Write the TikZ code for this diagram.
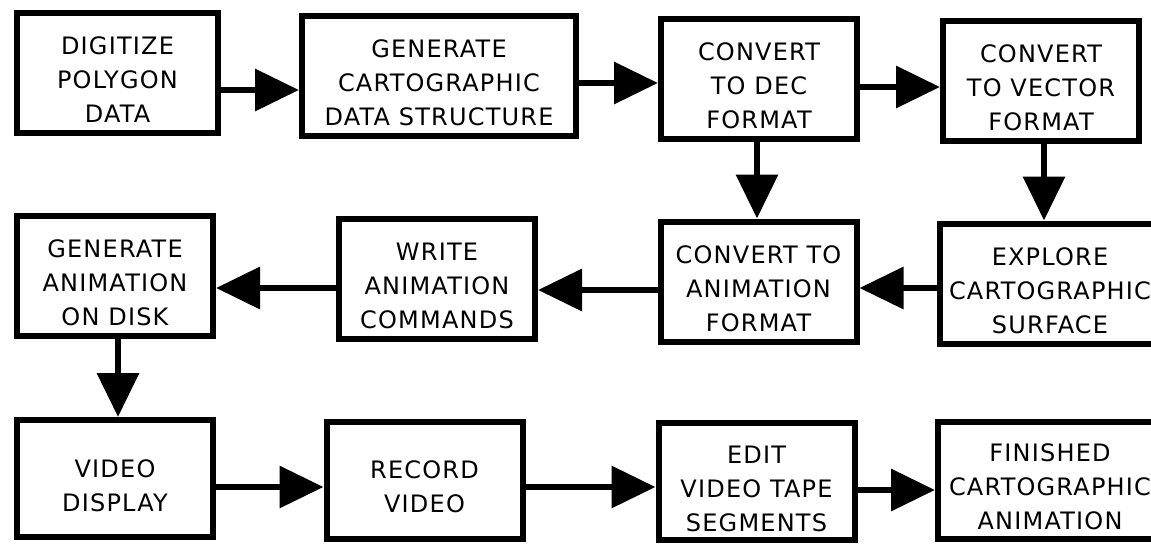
\documentclass[tikz,border=0pt]{standalone}
\usepackage{fontspec}
\setmainfont{DejaVu Sans}[LetterSpace=5]
\usetikzlibrary{arrows.meta}

\tikzset{
  caption/.style={yshift=-7pt, align=center, inner sep=0pt,
    font=\fontsize{24}{34}\selectfont},
  stage/.style={draw, rectangle, line width=6pt,
    minimum width=196pt, minimum height=120pt,
    label={[caption]center:#1}},
  flow/.style={line width=6.5pt, -{Triangle[length=44pt,width=41pt]}}
}

\begin{document}
\begin{tikzpicture}[x=1pt,y=-1pt]
  \clip (0,0) rectangle (1151,544);
  \fill [white] (0,0) rectangle (1151,544);

  % top row
  \node [stage={DIGITIZE\\POLYGON\\DATA}, minimum width=201pt] (digitize) at (117.5,73) {};
  \node [stage={GENERATE\\CARTOGRAPHIC\\DATA STRUCTURE}, minimum width=274pt] (cartodata) at (439,76) {};
  \node [stage={CONVERT\\TO DEC\\FORMAT}] (decfmt) at (759,78.5) {};
  \node [stage={CONVERT\\TO VECTOR\\FORMAT}] (vecfmt) at (1041,80.5) {};

  % middle row, runs right to left
  \node [stage={GENERATE\\ANIMATION\\ON DISK}] (gendisk) at (115,275.5) {};
  \node [stage={WRITE\\ANIMATION\\COMMANDS}] (writecmd) at (437,279) {};
  \node [stage={CONVERT TO\\ANIMATION\\FORMAT}] (animfmt) at (758.5,281.5) {};
  \node [stage={EXPLORE\\CARTOGRAPHIC\\SURFACE}, minimum width=220pt] (explore) at (1050,283.5) {};

  % bottom row
  \node [stage={VIDEO\\DISPLAY}, minimum height=117pt] (display) at (115,478.5) {};
  \node [stage={RECORD\\VIDEO}, minimum height=117pt] (record) at (424.5,480) {};
  \node [stage={EDIT\\VIDEO TAPE\\SEGMENTS}, minimum height=117pt] (edit) at (756.5,481.5) {};
  \node [stage={FINISHED\\CARTOGRAPHIC\\ANIMATION}, minimum height=117pt, minimum width=224pt] (finished) at (1050,480) {};

  % arrows along the rows
  \draw [flow] ([yshift=-17pt]digitize.east) -- ([yshift=-17pt]digitize.east -| cartodata.west);
  \draw [flow] ([yshift=-7pt]cartodata.east) -- ([yshift=-7pt]cartodata.east -| decfmt.west);
  \draw [flow] ([yshift=-8.5pt]decfmt.east) -- ([yshift=-8.5pt]decfmt.east -| vecfmt.west);
  \draw [flow] ([yshift=-4.5pt]explore.west) -- ([yshift=-4.5pt]explore.west -| animfmt.east);
  \draw [flow] ([yshift=-8.5pt]animfmt.west) -- ([yshift=-8.5pt]animfmt.west -| writecmd.east);
  \draw [flow] ([yshift=-9pt]writecmd.west) -- ([yshift=-9pt]writecmd.west -| gendisk.east);
  \draw [flow] ([yshift=-8.5pt]display.east) -- ([yshift=-8.5pt]display.east -| record.west);
  \draw [flow] ([yshift=-7pt]record.east) -- ([yshift=-7pt]record.east -| edit.west);
  \draw [flow] ([yshift=-8.5pt]edit.east) -- ([yshift=-8.5pt]edit.east -| finished.west);

  % arrows down to the next row
  \draw [flow] ([xshift=-2pt]decfmt.south) -- ([xshift=-2pt]decfmt.south |- animfmt.north);
  \draw [flow] ([xshift=3pt]vecfmt.south) -- ([xshift=3pt]vecfmt.south |- explore.north);
  \draw [flow] ([xshift=3pt]gendisk.south) -- ([xshift=3pt]gendisk.south |- display.north);
\end{tikzpicture}
\end{document}
